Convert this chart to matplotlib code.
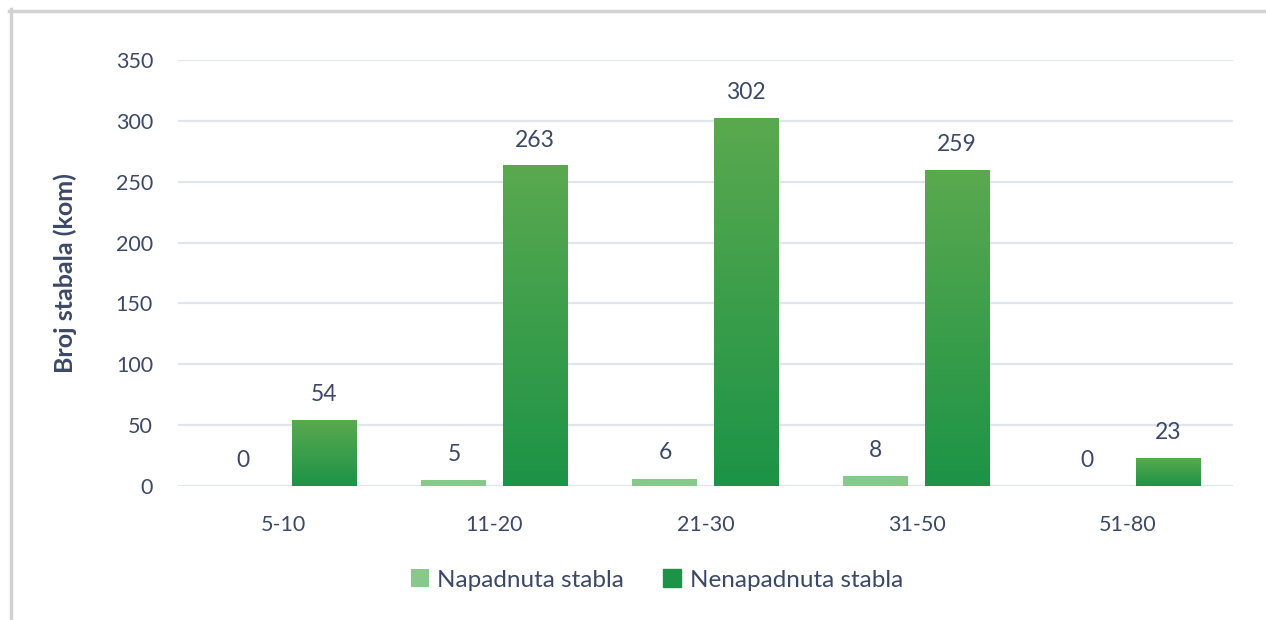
import numpy as np
import matplotlib
matplotlib.use("Agg")
import matplotlib.pyplot as plt
from matplotlib.lines import Line2D
from matplotlib.colors import LinearSegmentedColormap

# data
categories = ["5-10", "11-20", "21-30", "31-50", "51-80"]
napadnuta = [0, 5, 6, 8, 0]
nenapadnuta = [54, 263, 302, 259, 23]
series_names = ["Napadnuta stabla", "Nenapadnuta stabla"]
y_ticks = [0, 50, 100, 150, 200, 250, 300, 350]

TEXT = "#3b4868"
LIGHT = "#86c98a"
DARK_TOP = "#5aa94f"
DARK_BOTTOM = "#1c9347"
GRID = "#dfe5ec"

plt.rcParams["font.family"] = ["Lato", "DejaVu Sans"]

fig = plt.figure(figsize=(12.66, 6.2), dpi=100)
ax = fig.add_axes([178 / 1266, 1 - 486 / 620, 1055 / 1266, 426 / 620])

x = np.arange(len(categories))
w = 0.308
off = 0.192

b1 = ax.bar(x - off, napadnuta, w, color=LIGHT, zorder=3, label=series_names[0])
b2 = ax.bar(x + off, nenapadnuta, w, color=DARK_BOTTOM, zorder=3, label=series_names[1])

# vertical gradient on the dark bars
cmap = LinearSegmentedColormap.from_list("g", [DARK_BOTTOM, DARK_TOP])
grad = np.linspace(0, 1, 256).reshape(-1, 1)
for bar in b2:
    bx, by = bar.get_x(), bar.get_y()
    bw, bh = bar.get_width(), bar.get_height()
    if bh <= 0:
        continue
    ax.imshow(grad, cmap=cmap, origin="lower", aspect="auto",
              extent=(bx, bx + bw, by, by + bh), zorder=3.5, interpolation="bicubic")
ax.set_xlim(-0.5, len(categories) - 0.5)
ax.set_ylim(0, 350)

# value labels
for bars, vals in ((b1, napadnuta), (b2, nenapadnuta)):
    for bar, v in zip(bars, vals):
        ax.annotate(str(v), (bar.get_x() + bar.get_width() / 2, bar.get_height()),
                    xytext=(0, 11), textcoords="offset points", ha="center",
                    va="bottom", fontsize=16.5, color=TEXT, zorder=5)

ax.set_yticks(y_ticks)
ax.yaxis.grid(True, color=GRID, linewidth=1.6, zorder=0)
ax.set_axisbelow(True)
ax.set_xticks(x)
ax.set_xticklabels(categories)
ax.tick_params(axis="both", length=0, labelsize=15.5, labelcolor=TEXT)
ax.tick_params(axis="y", pad=18)
ax.tick_params(axis="x", pad=21)
for s in ax.spines.values():
    s.set_visible(False)

ax.set_ylabel("Broj stabala (kom)", fontsize=18, fontweight="bold", color=TEXT, labelpad=28)

leg = fig.legend(handles=[b1, b2], labels=series_names, loc="center",
                 bbox_to_anchor=(657 / 1266, 1 - 580 / 620), ncol=2, frameon=False,
                 fontsize=17.5, labelcolor=TEXT, handlelength=0.75, handleheight=0.75,
                 handletextpad=0.35, columnspacing=1.6)
leg.legend_handles[1].set_color(DARK_BOTTOM)

# gray frame (top and left edges)
fig.add_artist(Line2D([9 / 1266, 1], [1 - 10.5 / 620] * 2, color="#d2d2d2", linewidth=2.5))
fig.add_artist(Line2D([10.5 / 1266] * 2, [0, 1 - 9 / 620], color="#d2d2d2", linewidth=2.5))

fig.savefig("out.png", dpi=100)
